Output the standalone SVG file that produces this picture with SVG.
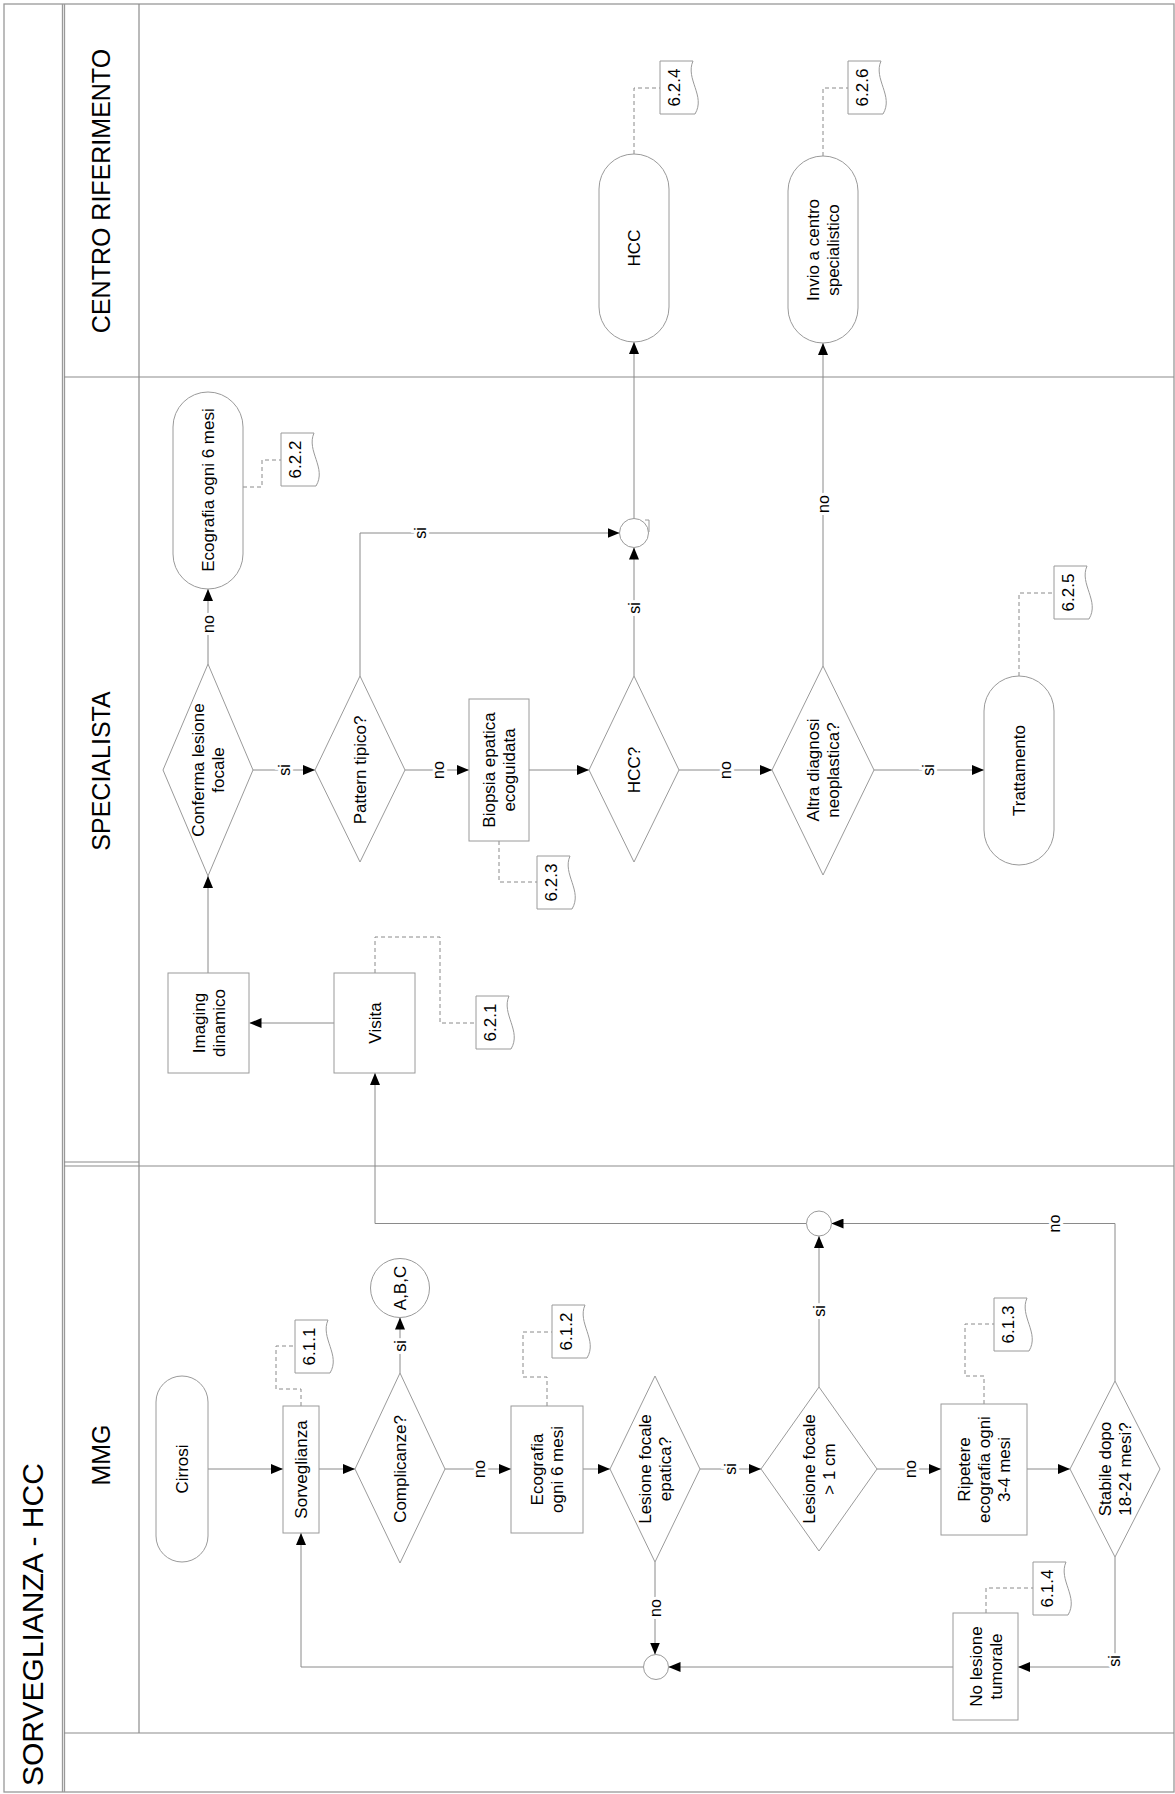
<svg xmlns="http://www.w3.org/2000/svg" width="1175" height="1794" viewBox="0 0 1175 1794">
<style>
.frame{fill:none;stroke:#999;stroke-width:1.3}
.lane{fill:none;stroke:#8c8c8c;stroke-width:1.2}
.shape{fill:#fff;stroke:#9a9a9a;stroke-width:1}
.conn{fill:none;stroke:#8a8a8a;stroke-width:1;marker-end:url(#arr)}
.dash{fill:none;stroke:#8a8a8a;stroke-width:1;stroke-dasharray:4 3}
.t{font-family:"Liberation Sans",Arial,Helvetica,sans-serif;font-size:17px;fill:#000;text-anchor:middle}
.lbl{font-family:"Liberation Sans",Arial,Helvetica,sans-serif;font-size:16px;fill:#000;text-anchor:middle;stroke:#fff;stroke-width:6;paint-order:stroke}
.lanet{font-family:"Liberation Sans",Arial,Helvetica,sans-serif;font-size:25px;fill:#000;text-anchor:middle}
.title{font-family:"Liberation Sans",Arial,Helvetica,sans-serif;font-size:30px;fill:#000}
</style>
<defs>
<marker id="arr" markerUnits="userSpaceOnUse" markerWidth="12" markerHeight="10" refX="12" refY="5" orient="auto">
<path d="M0,0 L12,5 L0,10 Z" fill="#000"/>
</marker>
</defs>
<rect width="1175" height="1794" fill="#fff"/>

<g id="frame">
<rect class="frame" x="4" y="4" width="1170" height="1788"/>
<line class="frame" x1="62.5" y1="4" x2="62.5" y2="1792"/>
<line class="frame" x1="64.5" y1="4" x2="64.5" y2="1792"/>
<line class="lane" x1="139" y1="4" x2="139" y2="1733"/>
<line class="lane" x1="64" y1="377" x2="1174" y2="377"/>
<line class="lane" x1="64" y1="1162" x2="139" y2="1162"/>
<line class="lane" x1="64" y1="1166" x2="1174" y2="1166"/>
<line class="lane" x1="64" y1="1733" x2="1174" y2="1733"/>
<text class="title" transform="translate(43,1786) rotate(-90)">SORVEGLIANZA - HCC</text>
<text class="lanet" transform="translate(110,191) rotate(-90)">CENTRO RIFERIMENTO</text>
<text class="lanet" transform="translate(110,771) rotate(-90)">SPECIALISTA</text>
<text class="lanet" transform="translate(110,1455) rotate(-90)">MMG</text>
</g>

<g id="connectors">
<path class="conn" d="M334,1023 H249.5"/>
<path class="conn" d="M208,973 V876"/>
<path class="conn" d="M208,664 V589"/>
<path class="conn" d="M253,770 H315"/>
<path class="conn" d="M360,676 V533 H619.5"/>
<path class="conn" d="M405,770 H469"/>
<path class="conn" d="M529,770 H589"/>
<path class="conn" d="M634,676 V547.5"/>
<path class="conn" d="M634,518.5 V342"/>
<path class="conn" d="M679,770 H772"/>
<path class="conn" d="M823,666 V343"/>
<path class="conn" d="M874,770 H984"/>
<path class="conn" d="M208,1469 H283"/>
<path class="conn" d="M319,1469 H355"/>
<path class="conn" d="M400,1373 V1317.5"/>
<path class="conn" d="M445,1469 H511"/>
<path class="conn" d="M583,1469 H610"/>
<path class="conn" d="M655,1562 V1654.5"/>
<path class="conn" d="M700,1469 H761"/>
<path class="conn" d="M819,1387 V1236"/>
<path class="conn" d="M877,1469 H941"/>
<path class="conn" d="M1027,1469 H1070"/>
<path class="conn" d="M1115,1381 V1223.5 H831.5"/>
<path class="conn" d="M1115,1557 V1667 H1018"/>
<path class="conn" d="M953,1667 H668.5"/>
<path class="conn" d="M643.5,1667 H301 V1533"/>
<path class="conn" d="M806.5,1223.5 H375 V1073"/>
<path class="dash" d="M243,487 H262 V460 H281"/>
<path class="dash" d="M634,154 V88 H660"/>
<path class="dash" d="M823,156 V88 H848"/>
<path class="dash" d="M1019,676 V593 H1054"/>
<path class="dash" d="M499,841 V882 H537"/>
<path class="dash" d="M375,973 V937 H440 V1023 H476"/>
<path class="dash" d="M301,1406 V1389 H276 V1346 H295"/>
<path class="dash" d="M547,1406 V1377 H523 V1332 H552"/>
<path class="dash" d="M984,1404 V1376 H965 V1324 H994"/>
<path class="dash" d="M986,1613 V1588 H1033"/>
<text class="lbl" transform="translate(208,624) rotate(-90)" y="6">no</text>
<text class="lbl" transform="translate(284,770) rotate(-90)" y="6">si</text>
<text class="lbl" transform="translate(420,533) rotate(-90)" y="6">si</text>
<text class="lbl" transform="translate(438,770) rotate(-90)" y="6">no</text>
<text class="lbl" transform="translate(634,608) rotate(-90)" y="6">si</text>
<text class="lbl" transform="translate(725,770) rotate(-90)" y="6">no</text>
<text class="lbl" transform="translate(823,504) rotate(-90)" y="6">no</text>
<text class="lbl" transform="translate(928,770) rotate(-90)" y="6">si</text>
<text class="lbl" transform="translate(400,1346) rotate(-90)" y="6">si</text>
<text class="lbl" transform="translate(479,1469) rotate(-90)" y="6">no</text>
<text class="lbl" transform="translate(655,1608) rotate(-90)" y="6">no</text>
<text class="lbl" transform="translate(730,1469) rotate(-90)" y="6">si</text>
<text class="lbl" transform="translate(819,1311) rotate(-90)" y="6">si</text>
<text class="lbl" transform="translate(910,1469) rotate(-90)" y="6">no</text>
<text class="lbl" transform="translate(1054,1223.5) rotate(-90)" y="6">no</text>
<text class="lbl" transform="translate(1114,1661) rotate(-90)" y="6">si</text>
</g>

<g id="n-hcc">
<rect class="shape" x="599" y="154" width="70" height="188" rx="35"/>
<text class="t" transform="translate(634,248) rotate(-90)" y="6">HCC</text>
</g>
<g id="n-invio">
<rect class="shape" x="788" y="156" width="70" height="187" rx="35"/>
<text class="t" transform="translate(823,250) rotate(-90)"><tspan x="0" y="-4">Invio a centro</tspan><tspan x="0" y="16">specialistico</tspan></text>
</g>
<g id="doc-624">
<path class="shape" d="M660,61 H693 C685,79 706,96 695,114 H660 Z"/>
<text class="t" transform="translate(674,87.5) rotate(-90)" y="6">6.2.4</text>
</g>
<g id="doc-626">
<path class="shape" d="M848,61 H881 C873,79 894,96 883,114 H848 Z"/>
<text class="t" transform="translate(862,87.5) rotate(-90)" y="6">6.2.6</text>
</g>

<g id="n-eco-spec">
<rect class="shape" x="173" y="392" width="70" height="197" rx="35"/>
<text class="t" transform="translate(208,490) rotate(-90)" y="6">Ecografia ogni 6 mesi</text>
</g>
<g id="doc-622">
<path class="shape" d="M281,433 H314 C306,451 327,468 316,486 H281 Z"/>
<text class="t" transform="translate(295,459.5) rotate(-90)" y="6">6.2.2</text>
</g>
<g id="n-conferma">
<polygon class="shape" points="208,664 253,770 208,876 163,770"/>
<text class="t" transform="translate(208,770) rotate(-90)"><tspan x="0" y="-4">Conferma lesione</tspan><tspan x="0" y="16">focale</tspan></text>
</g>
<g id="n-pattern">
<polygon class="shape" points="360,676 405,770 360,862 315,770"/>
<text class="t" transform="translate(360,770) rotate(-90)" y="6">Pattern tipico?</text>
</g>
<g id="n-biopsia">
<rect class="shape" x="469" y="699" width="60" height="142"/>
<text class="t" transform="translate(499,770) rotate(-90)"><tspan x="0" y="-4">Biopsia epatica</tspan><tspan x="0" y="16">ecoguidata</tspan></text>
</g>
<g id="doc-623">
<path class="shape" d="M537,856 H570 C562,874 583,891 572,909 H537 Z"/>
<text class="t" transform="translate(551,882.5) rotate(-90)" y="6">6.2.3</text>
</g>
<g id="n-hccq">
<polygon class="shape" points="634,676 679,770 634,862 589,770"/>
<text class="t" transform="translate(634,770) rotate(-90)" y="6">HCC?</text>
</g>
<g id="n-junction-spec">
<circle class="shape" cx="634" cy="533" r="14.5"/>
<path d="M645,520 H649 V532" fill="none" stroke="#9a9a9a" stroke-width="1"/>
</g>
<g id="n-altra">
<polygon class="shape" points="823,666 874,770 823,875 772,770"/>
<text class="t" transform="translate(823,770) rotate(-90)"><tspan x="0" y="-4">Altra diagnosi</tspan><tspan x="0" y="16">neoplastica?</tspan></text>
</g>
<g id="n-trattamento">
<rect class="shape" x="984" y="676" width="70" height="189" rx="35"/>
<text class="t" transform="translate(1019,770.5) rotate(-90)" y="6">Trattamento</text>
</g>
<g id="doc-625">
<path class="shape" d="M1054,566 H1087 C1079,584 1100,601 1089,619 H1054 Z"/>
<text class="t" transform="translate(1068,592.5) rotate(-90)" y="6">6.2.5</text>
</g>
<g id="n-imaging">
<rect class="shape" x="168" y="973" width="81" height="100"/>
<text class="t" transform="translate(208.5,1023) rotate(-90)"><tspan x="0" y="-4">Imaging</tspan><tspan x="0" y="16">dinamico</tspan></text>
</g>
<g id="n-visita">
<rect class="shape" x="334" y="973" width="81" height="100"/>
<text class="t" transform="translate(374.5,1023) rotate(-90)" y="6">Visita</text>
</g>
<g id="doc-621">
<path class="shape" d="M476,996 H509 C501,1014 522,1031 511,1049 H476 Z"/>
<text class="t" transform="translate(490,1022.5) rotate(-90)" y="6">6.2.1</text>
</g>

<g id="n-cirrosi">
<rect class="shape" x="156" y="1376" width="52" height="186" rx="26"/>
<text class="t" transform="translate(182,1469) rotate(-90)" y="6">Cirrosi</text>
</g>
<g id="n-sorveglianza">
<rect class="shape" x="283" y="1406" width="36" height="127"/>
<text class="t" transform="translate(301,1469.5) rotate(-90)" y="6">Sorveglianza</text>
</g>
<g id="doc-611">
<path class="shape" d="M295,1320 H328 C320,1338 341,1355 330,1373 H295 Z"/>
<text class="t" transform="translate(309,1346.5) rotate(-90)" y="6">6.1.1</text>
</g>
<g id="n-complicanze">
<polygon class="shape" points="400,1373 445,1469 400,1563 355,1469"/>
<text class="t" transform="translate(400,1469) rotate(-90)" y="6">Complicanze?</text>
</g>
<g id="n-abc">
<circle class="shape" cx="400" cy="1288" r="29.5"/>
<text class="t" transform="translate(400,1288) rotate(-90)" y="6">A,B,C</text>
</g>
<g id="n-eco-mmg">
<rect class="shape" x="511" y="1406" width="72" height="127"/>
<text class="t" transform="translate(547,1469.5) rotate(-90)"><tspan x="0" y="-4">Ecografia</tspan><tspan x="0" y="16">ogni 6 mesi</tspan></text>
</g>
<g id="doc-612">
<path class="shape" d="M552,1305 H585 C577,1323 598,1340 587,1358 H552 Z"/>
<text class="t" transform="translate(566,1331.5) rotate(-90)" y="6">6.1.2</text>
</g>
<g id="n-lesione-epatica">
<polygon class="shape" points="655,1376 700,1469 655,1562 610,1469"/>
<text class="t" transform="translate(655,1469) rotate(-90)"><tspan x="0" y="-4">Lesione focale</tspan><tspan x="0" y="16">epatica?</tspan></text>
</g>
<g id="n-junction-low">
<circle class="shape" cx="656" cy="1667" r="12.5"/>
</g>
<g id="n-junction-up">
<circle class="shape" cx="819" cy="1223.5" r="12.5"/>
</g>
<g id="n-lesione-1cm">
<polygon class="shape" points="819,1387 877,1469 819,1551 761,1469"/>
<text class="t" transform="translate(819,1469) rotate(-90)"><tspan x="0" y="-4">Lesione focale</tspan><tspan x="0" y="16">&gt; 1 cm</tspan></text>
</g>
<g id="n-ripetere">
<rect class="shape" x="941" y="1404" width="86" height="131"/>
<text class="t" transform="translate(984,1469.5) rotate(-90)"><tspan x="0" y="-14">Ripetere</tspan><tspan x="0" y="6">ecografia ogni</tspan><tspan x="0" y="26">3-4 mesi</tspan></text>
</g>
<g id="doc-613">
<path class="shape" d="M994,1298 H1027 C1019,1316 1040,1333 1029,1351 H994 Z"/>
<text class="t" transform="translate(1008,1324.5) rotate(-90)" y="6">6.1.3</text>
</g>
<g id="n-stabile">
<polygon class="shape" points="1115,1381 1160,1469 1115,1557 1070,1469"/>
<text class="t" transform="translate(1115,1469) rotate(-90)"><tspan x="0" y="-4">Stabile dopo</tspan><tspan x="0" y="16">18-24 mesi?</tspan></text>
</g>
<g id="n-nolesione">
<rect class="shape" x="953" y="1613" width="65" height="107"/>
<text class="t" transform="translate(985.5,1666.5) rotate(-90)"><tspan x="0" y="-4">No lesione</tspan><tspan x="0" y="16">tumorale</tspan></text>
</g>
<g id="doc-614">
<path class="shape" d="M1033,1562 H1066 C1058,1580 1079,1597 1068,1615 H1033 Z"/>
<text class="t" transform="translate(1047,1588.5) rotate(-90)" y="6">6.1.4</text>
</g>
</svg>
